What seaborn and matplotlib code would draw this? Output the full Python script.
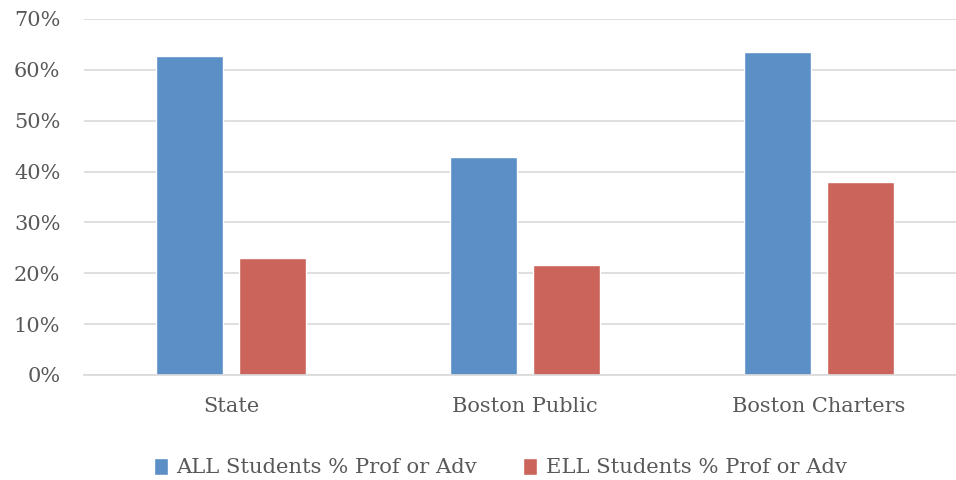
import matplotlib
matplotlib.use("Agg")
import matplotlib.pyplot as plt
import seaborn as sns
import pandas as pd
from matplotlib.ticker import FuncFormatter

categories = ["State", "Boston Public", "Boston Charters"]
series_names = ["ALL Students % Prof or Adv", "ELL Students % Prof or Adv"]
all_students = [62.7, 42.8, 63.5]
ell_students = [23.0, 21.7, 38.0]
y_ticks = [0, 10, 20, 30, 40, 50, 60, 70]

df = pd.DataFrame({
    "Category": categories * 2,
    "Series": [series_names[0]] * 3 + [series_names[1]] * 3,
    "Value": all_students + ell_students,
})

sns.set_theme(style="white")
plt.rcParams["font.family"] = ["DejaVu Serif", "Liberation Serif"]

fig = plt.figure(figsize=(9.56, 4.8), dpi=100)
ax = fig.add_axes([84 / 956, 105 / 480, 882 / 956, 356 / 480])

sns.barplot(data=df, x="Category", y="Value", hue="Series",
            palette=["#5B8FC5", "#CB645A"], width=0.57, gap=0.2,
            saturation=1, ax=ax, legend=True)

ax.set_ylim(0, 70)
ax.set_yticks(y_ticks)
ax.yaxis.set_major_formatter(FuncFormatter(lambda v, p: f"{int(v)}%"))
ax.grid(axis="y", color="#D9D9D9", linewidth=1.2)
ax.set_axisbelow(True)
for s in ["top", "right", "left"]:
    ax.spines[s].set_visible(False)
ax.spines["bottom"].set_color("#D9D9D9")
ax.spines["bottom"].set_linewidth(1.2)
ax.tick_params(axis="both", length=0, labelsize=15, colors="#595959")
ax.tick_params(axis="x", pad=16)
ax.tick_params(axis="y", pad=17)
ax.set_xlabel("")
ax.set_ylabel("")
ax.set_xlim(-0.5, 2.5)

leg = ax.legend(loc="center", bbox_to_anchor=(0.472, -0.26), ncol=2, frameon=False,
                fontsize=15.2, handlelength=0.65, handleheight=0.85, columnspacing=2.2,
                handletextpad=0.4)
for t in leg.get_texts():
    t.set_color("#595959")

fig.savefig("out.png", dpi=100)
